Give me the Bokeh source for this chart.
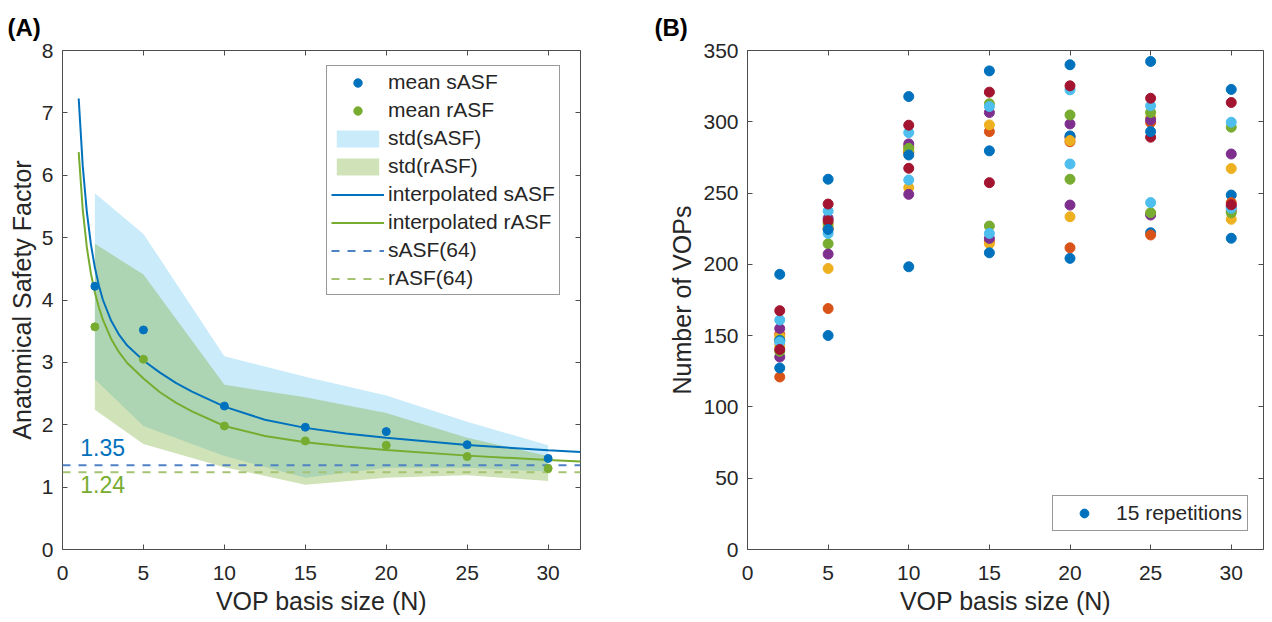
from bokeh.plotting import figure
from bokeh.layouts import row
from bokeh.models import LinearAxis, Legend, LegendItem, Label, FixedTicker, Range1d
from bokeh.embed import file_html
from bokeh.resources import INLINE

# ---------------- data ----------------
N = [2, 5, 10, 15, 20, 25, 30]
mean_sasf = [4.22, 3.52, 2.30, 1.96, 1.89, 1.68, 1.46]
std_sasf = [1.49, 1.54, 0.80, 0.81, 0.58, 0.37, 0.21]
mean_rasf = [3.57, 3.05, 1.98, 1.74, 1.67, 1.49, 1.30]
std_rasf = [1.33, 1.36, 0.66, 0.70, 0.52, 0.30, 0.20]

interp_x = [1.0, 1.25, 1.5, 1.75, 2.0, 2.25, 2.5, 3.0, 3.5, 4.0, 5.0, 6.0, 7.0, 8.0,
            10.0, 12.5, 15.0, 17.5, 20.0, 25.0, 30.0, 32.0]
interp_sasf = [7.23, 6.15, 5.42, 4.90, 4.52, 4.23, 4.00, 3.67, 3.44, 3.27, 3.03, 2.84,
               2.67, 2.53, 2.29, 2.08, 1.95, 1.86, 1.79, 1.675, 1.59, 1.565]
interp_rasf = [6.37, 5.45, 4.85, 4.43, 4.12, 3.88, 3.68, 3.38, 3.16, 2.99, 2.74, 2.525,
               2.355, 2.215, 1.98, 1.82, 1.72, 1.65, 1.597, 1.505, 1.435, 1.41]

sasf64 = 1.35
rasf64 = 1.24

# panel B: number of VOPs per repetition (15 repetitions) for each basis size
vops_N2 = [193, 151, 149.6, 155, 147, 161, 167.5, 146.5, 121, 143, 135, 139, 145.6, 140.3, 127.3]
vops_N5 = [259.7, 169, 197.1, 232.3, 214.5, 237.4, 242.3, 150.1, 225, 226.5, 207.2, 228.5, 221.7, 230.5, 224.5]
vops_N10 = [317.7, 282.5, 253.8, 249.1, 279, 259.2, 267.4, 198.3, 278.5, 280, 284.5, 281.4, 292.4, 297.6, 276.7]
vops_N15 = [335.7, 293.1, 297.8, 306.5, 312.6, 310.7, 320.8, 279.6, 215.9, 214.5, 218.2, 226.9, 221.7, 257.3, 208.1]
vops_N20 = [204.2, 211.6, 233.4, 241.6, 259.7, 270.4, 289, 290.1, 286, 286.8, 298.5, 304.8, 322.4, 325.2, 340]
vops_N25 = [342.3, 299.5, 303, 301.3, 306.5, 311.2, 316.5, 222.2, 220.6, 235.5, 234.6, 236.2, 243.3, 289.2, 293.1]
vops_N30 = [322.7, 237.5, 267.2, 277.4, 296.2, 299.7, 313.5, 248.6, 243.3, 231.6, 240.5, 236.2, 239.3, 241.8, 218.3]

x_ticks = [0, 5, 10, 15, 20, 25, 30]
yA_ticks = [0, 1, 2, 3, 4, 5, 6, 7, 8]
yB_ticks = [0, 50, 100, 150, 200, 250, 300, 350]

# ---------------- style ----------------
FONT = "Liberation Sans"
TXT = "#262626"
AX = "#4d4d4d"
BLUE = "#0072BD"
GREEN = "#77AC30"
LBLUE = "#4DBEEE"
PALETTE = ["#0072BD", "#D95319", "#EDB120", "#7E2F8E", "#77AC30", "#4DBEEE", "#A2142F"]


def style_axes(p, xt, yt, ylab_standoff):
    p.grid.visible = False
    p.outline_line_color = AX
    p.outline_line_width = 1
    p.background_fill_color = "white"
    p.border_fill_color = "white"
    for ax in (p.xaxis[0], p.yaxis[0]):
        ax.axis_line_color = None
        ax.major_tick_in = 5
        ax.major_tick_out = 0
        ax.major_tick_line_color = AX
        ax.minor_tick_line_color = None
        ax.major_label_text_font = FONT
        ax.major_label_text_font_size = "21px"
        ax.major_label_text_color = TXT
        ax.axis_label_text_font = FONT
        ax.axis_label_text_font_size = "25px"
        ax.axis_label_text_font_style = "normal"
        ax.axis_label_text_color = TXT
    p.xaxis[0].ticker = FixedTicker(ticks=xt)
    p.yaxis[0].ticker = FixedTicker(ticks=yt)
    p.xaxis[0].major_label_standoff = 16
    p.xaxis[0].axis_label_standoff = 4
    p.yaxis[0].major_label_standoff = 9
    p.yaxis[0].axis_label_standoff = ylab_standoff
    for side, tk in (("above", xt), ("right", yt)):
        ax = LinearAxis(ticker=FixedTicker(ticks=tk), axis_line_color=None,
                        major_tick_in=5, major_tick_out=0, major_tick_line_color=AX,
                        minor_tick_line_color=None, major_label_text_font_size="1px",
                        major_label_text_color=None, major_label_standoff=0)
        p.add_layout(ax, side)
    p.title.text_font = FONT
    p.title.text_font_size = "24px"
    p.title.text_font_style = "bold"
    p.title.text_color = "black"
    p.title.align = "left"
    p.title.vertical_align = "top"
    p.title.standoff = 15


# ---------------- panel A ----------------
pA = figure(width=640, height=622, x_range=Range1d(0, 32), y_range=Range1d(0, 8),
            output_backend="svg", toolbar_location=None, title="(A)",
            min_border_left=62, min_border_right=60, min_border_top=50, min_border_bottom=73,
            x_axis_label="VOP basis size (N)", y_axis_label="Anatomical Safety Factor")
style_axes(pA, x_ticks, yA_ticks, 3)
pA.title.offset = -55

s_lo = [m - s for m, s in zip(mean_sasf, std_sasf)]
s_hi = [m + s for m, s in zip(mean_sasf, std_sasf)]
r_lo = [m - s for m, s in zip(mean_rasf, std_rasf)]
r_hi = [m + s for m, s in zip(mean_rasf, std_rasf)]

r_std_s = pA.varea(x=N, y1=s_lo, y2=s_hi, fill_color=LBLUE, fill_alpha=0.3)
r_std_r = pA.varea(x=N, y1=r_lo, y2=r_hi, fill_color=GREEN, fill_alpha=0.35)

xr = [pA.x_range.start, pA.x_range.end]
r_d_s = pA.line(x=xr, y=[sasf64, sasf64], line_color="#4f82c2", line_width=2, line_dash="8 8")
r_d_r = pA.line(x=xr, y=[rasf64, rasf64], line_color="#a6c273", line_width=2, line_dash="8 8")

r_i_s = pA.line(x=interp_x, y=interp_sasf, line_color=BLUE, line_width=2)
r_i_r = pA.line(x=interp_x, y=interp_rasf, line_color=GREEN, line_width=2)

r_m_s = pA.scatter(x=N, y=mean_sasf, size=8, fill_color=BLUE, line_color=BLUE)
r_m_r = pA.scatter(x=N, y=mean_rasf, size=8, fill_color=GREEN, line_color=GREEN)

pA.add_layout(Label(x=1.1, y=sasf64, text=f"{sasf64:.2f}", text_color=BLUE,
                    text_font=FONT, text_font_size="23px", text_baseline="top",
                    y_offset=26))
pA.add_layout(Label(x=1.1, y=rasf64, text=f"{rasf64:.2f}", text_color=GREEN,
                    text_font=FONT, text_font_size="23px", text_baseline="top",
                    y_offset=-4))

legA = Legend(items=[
    LegendItem(label="mean sASF", renderers=[r_m_s]),
    LegendItem(label="mean rASF", renderers=[r_m_r]),
    LegendItem(label="std(sASF)", renderers=[r_std_s]),
    LegendItem(label="std(rASF)", renderers=[r_std_r]),
    LegendItem(label="interpolated sASF", renderers=[r_i_s]),
    LegendItem(label="interpolated rASF", renderers=[r_i_r]),
    LegendItem(label="sASF(64)", renderers=[r_d_s]),
    LegendItem(label="rASF(64)", renderers=[r_d_r]),
], location=(264, 254), label_text_font=FONT, label_text_font_size="21px",
    label_text_color=TXT, glyph_width=53, glyph_height=21, label_height=21,
    spacing=4, padding=4, label_standoff=4, border_line_color="#333333",
    border_line_width=1, background_fill_alpha=1.0, margin=0)
pA.add_layout(legA, "center")

# ---------------- panel B ----------------
pB = figure(width=632, height=622, x_range=Range1d(0, 32), y_range=Range1d(0, 350),
            output_backend="svg", toolbar_location=None, title="(B)",
            min_border_left=107, min_border_right=9, min_border_top=50, min_border_bottom=73,
            x_axis_label="VOP basis size (N)", y_axis_label="Number of VOPs")
style_axes(pB, x_ticks, yB_ticks, 4)
pB.title.offset = -93

cols = [vops_N2, vops_N5, vops_N10, vops_N15, vops_N20, vops_N25, vops_N30]
rep_renderers = []
for i in range(15):
    vals = [c[i] for c in cols]
    col = PALETTE[i % 7]
    r = pB.scatter(x=N, y=vals, size=10, fill_color=col, line_color=col)
    rep_renderers.append(r)

legB = Legend(items=[LegendItem(label="15 repetitions", renderers=[rep_renderers[0]])],
              location=(305, 18), label_text_font=FONT, label_text_font_size="21px",
              label_text_color=TXT, glyph_width=52, glyph_height=22, label_height=22,
              padding=5, label_standoff=6, border_line_color="#333333",
              border_line_width=1, margin=0)
pB.add_layout(legB, "center")

layout = row(pA, pB)
open("out.html", "w").write(file_html(layout, INLINE))
